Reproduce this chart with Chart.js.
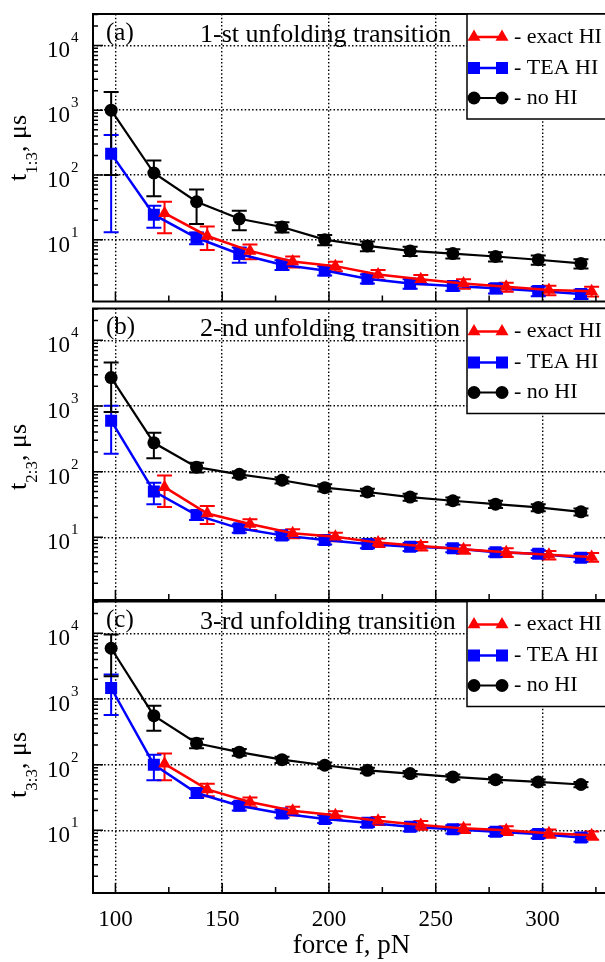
<!DOCTYPE html>
<html>
<head>
<meta charset="utf-8">
<script src="https://cdn.jsdelivr.net/npm/chart.js@4.4.0/dist/chart.umd.min.js"></script>
<style>
  html, body { margin: 0; padding: 0; background: #fff; overflow: hidden; width: 605px; height: 962px; }
  canvas { position: absolute; left: 0; }
</style>
</head>
<body>
<canvas id="panelA" width="620" height="310" style="top:0px"></canvas>
<canvas id="panelB" width="620" height="310" style="top:300px"></canvas>
<canvas id="panelC" width="620" height="369" style="top:593px"></canvas>
<script>
// forces, pN
const forceHI = [98, 118, 138, 158, 178, 198, 218, 238, 258, 278, 298, 318];
const forceExact = [123, 143, 163, 183, 203, 223, 243, 263, 283, 303, 323];
const xGrid = [100, 150, 200, 250, 300];
const xMinor = [125, 175, 225, 275, 325];
const yDecades = [10, 100, 1000, 10000];

const seriesNames = ['- exact HI', '- TEA HI', '- no HI'];
const panelLetters = ['(a)', '(b)', '(c)'];
const panelTitles = ['1-st unfolding transition', '2-nd unfolding transition', '3-rd unfolding transition'];
const panelSubs = ['1:3', '2:3', '3:3'];

// (a) 1-st transition, times in microseconds
const exact1 = [25.6, 11.4, 6.7, 4.6, 3.9, 2.9, 2.45, 2.1, 1.87, 1.67, 1.6];
const exact1Err = [13, 4.5, 1.7, 0.9, 0.65, 0.5, 0.4, 0.35, 0.3, 0.28, 0.27];
const tea1 = [213, 24.3, 10.7, 6.0, 4.1, 3.35, 2.5, 2.1, 1.92, 1.77, 1.61, 1.45];
const tea1Err = [200, 9, 2.2, 1.6, 0.7, 0.55, 0.4, 0.35, 0.3, 0.3, 0.27, 0.24];
const noHI1 = [1000, 107, 38.5, 21, 15.7, 10, 8.0, 6.7, 6.1, 5.5, 4.9, 4.3];
const noHI1Err = [900, 60, 21, 7, 2.8, 1.8, 1.4, 1.1, 1.0, 0.9, 0.8, 0.7];

// (b) 2-nd transition
const exact2 = [58, 23, 15.9, 11.5, 10.2, 8.3, 7.4, 6.6, 5.9, 5.4, 5.0];
const exact2Err = [29, 7, 3, 1.8, 1.5, 1.2, 1.1, 1.0, 0.9, 0.8, 0.75];
const tea2 = [598, 50, 21.8, 13.7, 10.7, 9.1, 7.9, 7.2, 6.8, 5.9, 5.6, 4.9];
const tea2Err = [410, 18, 3.5, 2, 1.5, 1.3, 1.1, 1.0, 0.9, 0.8, 0.75, 0.65];
const noHI2 = [2710, 275, 117, 91, 74, 57, 49, 41, 36, 32, 28.5, 24.4];
const noHI2Err = [1900, 115, 20, 10, 8, 7, 6, 5, 4.5, 4, 3.5, 3];

// (c) 3-rd transition
const exact3 = [103, 42, 27, 19.8, 17, 14, 12, 10.7, 10, 9, 8.4];
const exact3Err = [45, 9, 4.5, 3, 2.5, 2, 1.8, 1.6, 1.5, 1.3, 1.2];
const tea3 = [1470, 100, 37, 23.6, 18, 14.9, 13, 11.3, 10.4, 9.5, 8.8, 7.8];
const tea3Err = [900, 42, 6, 3.5, 2.5, 2, 1.8, 1.6, 1.5, 1.3, 1.2, 1.1];
const noHI3 = [5930, 558, 212, 155, 119, 98, 82, 73, 65, 59, 54.6, 49.8];
const noHI3Err = [3700, 230, 35, 18, 13, 10, 8, 7, 6, 5.5, 5, 4.5];

const SERIF = "'Liberation Serif', 'Times New Roman', serif";
const RED = '#ff0000', BLUE = '#0000ff', BLACK = '#000000';

function pts(xs, ys) {
  return xs.map((x, i) => ({ x: x, y: ys[i] }));
}

function marker(ctx, style, x, y, r) {
  ctx.beginPath();
  if (style === 'circle') {
    ctx.arc(x, y, r, 0, Math.PI * 2);
  } else if (style === 'rect') {
    const s = r * Math.SQRT1_2;
    ctx.rect(x - s, y - s, 2 * s, 2 * s);
  } else {
    ctx.moveTo(x, y - r);
    ctx.lineTo(x + r * 0.866, y + r * 0.5);
    ctx.lineTo(x - r * 0.866, y + r * 0.5);
    ctx.closePath();
  }
  ctx.fill();
}

const panelDecor = {
  id: 'panelDecor',
  beforeDatasetsDraw(chart) {
    // error bars
    const ctx = chart.ctx, ys = chart.scales.y, xs = chart.scales.x;
    ctx.save();
    chart.data.datasets.forEach((ds) => {
      ctx.strokeStyle = ds.borderColor;
      ctx.lineWidth = 2;
      ds.data.forEach((p, j) => {
        const e = ds.errors[j];
        const px = xs.getPixelForValue(p.x);
        const top = ys.getPixelForValue(p.y + e);
        const bot = ys.getPixelForValue(Math.max(p.y - e, ys.min));
        ctx.beginPath();
        ctx.moveTo(px, top); ctx.lineTo(px, bot);
        ctx.moveTo(px - 7.5, top); ctx.lineTo(px + 7.5, top);
        ctx.moveTo(px - 7.5, bot); ctx.lineTo(px + 7.5, bot);
        ctx.stroke();
      });
    });
    ctx.restore();
  },
  afterDraw(chart, args, opts) {
    const ctx = chart.ctx, a = chart.chartArea;
    const ys = chart.scales.y, xs = chart.scales.x;
    const k = opts.panel;
    ctx.save();

    // minor / major ticks on the left edge
    ctx.strokeStyle = BLACK;
    ctx.lineWidth = 1.5;
    ctx.beginPath();
    for (let d = 0; d <= 4; d++) {
      for (let m = 1; m <= 9; m++) {
        const v = m * Math.pow(10, d);
        if (v < ys.min || v > ys.max) continue;
        const py = ys.getPixelForValue(v);
        ctx.moveTo(a.left, py);
        ctx.lineTo(a.left + (m === 1 ? 10 : 5), py);
      }
    }
    // ticks on the bottom edge
    xGrid.forEach(v => {
      const px = xs.getPixelForValue(v);
      ctx.moveTo(px, a.bottom); ctx.lineTo(px, a.bottom - 10);
    });
    xMinor.forEach(v => {
      const px = xs.getPixelForValue(v);
      ctx.moveTo(px, a.bottom); ctx.lineTo(px, a.bottom - 6);
    });
    ctx.stroke();

    // frame
    ctx.lineWidth = 2;
    ctx.strokeRect(a.left, a.top, a.right - a.left, a.bottom - a.top);

    // y tick labels 10^n
    ctx.fillStyle = BLACK;
    yDecades.forEach(v => {
      const py = ys.getPixelForValue(v);
      ctx.font = '23px ' + SERIF;
      ctx.textAlign = 'right';
      ctx.textBaseline = 'middle';
      ctx.fillText('10', 70, py + 6);
      ctx.font = '15px ' + SERIF;
      ctx.textAlign = 'left';
      ctx.fillText(String(Math.round(Math.log10(v))), 71, py - 7);
    });

    // y axis title t_{k:3}, µs
    ctx.save();
    ctx.translate(19, opts.titleY);
    ctx.rotate(-Math.PI / 2);
    ctx.textBaseline = 'middle';
    ctx.textAlign = 'left';
    ctx.font = '26px ' + SERIF;
    const w1 = ctx.measureText('t').width;
    const w3 = ctx.measureText(', \u03bcs').width;
    ctx.font = '17px ' + SERIF;
    const w2 = ctx.measureText(panelSubs[k]).width;
    let x0 = -(w1 + w2 + w3) / 2;
    ctx.font = '26px ' + SERIF;
    ctx.fillText('t', x0, 0);
    ctx.font = '17px ' + SERIF;
    ctx.fillText(panelSubs[k], x0 + w1, 14);
    ctx.font = '26px ' + SERIF;
    ctx.fillText(', \u03bcs', x0 + w1 + w2, 0);
    ctx.restore();

    // panel letter and title
    ctx.font = '25px ' + SERIF;
    ctx.textAlign = 'left';
    ctx.textBaseline = 'middle';
    ctx.fillText(panelLetters[k], 106, a.top + 19);
    ctx.font = '26px ' + SERIF;
    ctx.fillText(panelTitles[k], 200, a.top + 21);

    // legend box
    const lx = 467, ly = a.top, lh = 105;
    ctx.fillStyle = '#fff';
    ctx.fillRect(lx, ly, a.right - lx, lh);
    ctx.strokeStyle = BLACK;
    ctx.lineWidth = 1.5;
    ctx.strokeRect(lx, ly, a.right - lx, lh);
    const rows = [23, 54, 84];
    const styles = [['triangle', RED, 7.5, 2.5], ['rect', BLUE, 8.5, 2.5], ['circle', BLACK, 6.5, 2]];
    styles.forEach((s, i) => {
      const y = ly + rows[i];
      ctx.strokeStyle = s[1];
      ctx.fillStyle = s[1];
      ctx.lineWidth = s[3];
      ctx.beginPath();
      ctx.moveTo(471, y); ctx.lineTo(505, y);
      ctx.stroke();
      marker(ctx, s[0], 474, y, s[2]);
      marker(ctx, s[0], 502, y, s[2]);
      ctx.fillStyle = BLACK;
      ctx.font = '22px ' + SERIF;
      ctx.fillText(seriesNames[i], 514, y);
    });
    ctx.restore();
  }
};

function makePanel(id, k, exact, exactErr, tea, teaErr, noHI, noHIErr, pad, titleY) {
  const bottom = k === 2;
  return new Chart(document.getElementById(id), {
    type: 'line',
    data: {
      datasets: [
        { label: 'exact HI', data: pts(forceExact, exact), errors: exactErr, borderColor: RED, backgroundColor: RED,
          borderWidth: 2.5, pointStyle: 'triangle', pointRadius: 7.5, pointBorderWidth: 0, order: 1 },
        { label: 'TEA HI', data: pts(forceHI, tea), errors: teaErr, borderColor: BLUE, backgroundColor: BLUE,
          borderWidth: 2.5, pointStyle: 'rect', pointRadius: 8.5, pointBorderWidth: 0, order: 2 },
        { label: 'no HI', data: pts(forceHI, noHI), errors: noHIErr, borderColor: BLACK, backgroundColor: BLACK,
          borderWidth: 2.2, pointStyle: 'circle', pointRadius: 6.5, pointBorderWidth: 0, order: 3 }
      ]
    },
    options: {
      responsive: false,
      animation: false,
      devicePixelRatio: 1,
      layout: { padding: pad },
      plugins: {
        legend: { display: false },
        tooltip: { enabled: false },
        panelDecor: { panel: k, titleY: titleY }
      },
      scales: {
        x: {
          type: 'linear',
          min: 89.5,
          max: 331.6,
          afterBuildTicks: s => { s.ticks = xGrid.map(v => ({ value: v })); },
          afterFit: s => { s.height = bottom ? 69 : 0; },
          grid: { color: BLACK, lineWidth: 1.4, drawTicks: false },
          border: { display: false, dash: [1.5, 2.2] },
          ticks: { display: bottom, color: BLACK, padding: 13, font: { family: SERIF, size: 23 } },
          title: { display: bottom, text: 'force f, pN', color: BLACK, padding: { top: 0, bottom: 0 },
                   font: { family: SERIF, size: 27 } }
        },
        y: {
          type: 'logarithmic',
          min: Math.pow(10, 0.045),
          max: Math.pow(10, 4.485),
          afterBuildTicks: s => { s.ticks = yDecades.map(v => ({ value: v })); },
          afterFit: s => { s.width = 0; },
          grid: { color: BLACK, lineWidth: 1.4, drawTicks: false },
          border: { display: false, dash: [1.5, 2.2] },
          ticks: { display: false }
        }
      }
    },
    plugins: [panelDecor]
  });
}

makePanel('panelA', 0, exact1, exact1Err, tea1, tea1Err, noHI1, noHI1Err,
  { top: 14, bottom: 3, left: 93, right: 10 }, 148);
makePanel('panelB', 1, exact2, exact2Err, tea2, tea2Err, noHI2, noHI2Err,
  { top: 7, bottom: 10, left: 93, right: 10 }, 157);
makePanel('panelC', 2, exact3, exact3Err, tea3, tea3Err, noHI3, noHI3Err,
  { top: 7, bottom: 0, left: 93, right: 10 }, 172);
</script>
</body>
</html>
